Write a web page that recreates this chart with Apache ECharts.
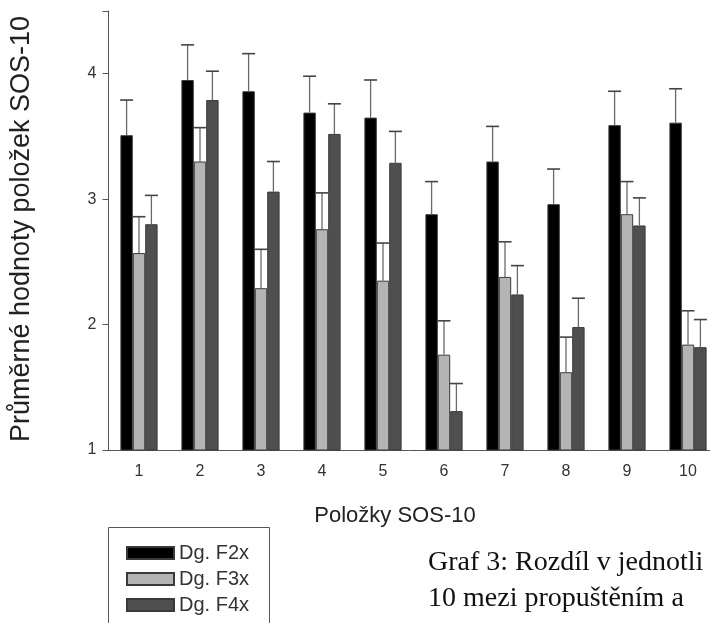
<!DOCTYPE html>
<html>
<head>
<meta charset="utf-8">
<script src="https://cdn.jsdelivr.net/npm/echarts@6/dist/echarts.min.js"></script>
<style>
  html, body { margin: 0; padding: 0; background: #fff; }
  #chart { width: 710px; height: 623px; }
</style>
</head>
<body>
<div id="chart"></div>
<script>
// položky SOS-10
const items = ['1', '2', '3', '4', '5', '6', '7', '8', '9', '10'];
const seriesNames = ['Dg. F2x', 'Dg. F3x', 'Dg. F4x'];
// průměry
const meanF2 = [3.51, 3.95, 3.86, 3.69, 3.65, 2.88, 3.30, 2.96, 3.59, 3.61];
const meanF3 = [2.57, 3.30, 2.29, 2.76, 2.35, 1.76, 2.38, 1.62, 2.88, 1.84];
const meanF4 = [2.80, 3.79, 3.06, 3.52, 3.29, 1.31, 2.24, 1.98, 2.79, 1.82];
// chybové úsečky (horní)
const errF2 = [0.28, 0.28, 0.30, 0.29, 0.30, 0.26, 0.28, 0.28, 0.27, 0.27];
const errF3 = [0.29, 0.27, 0.31, 0.29, 0.30, 0.27, 0.28, 0.28, 0.26, 0.27];
const errF4 = [0.23, 0.23, 0.24, 0.24, 0.25, 0.22, 0.23, 0.23, 0.22, 0.22];
const yTicks = [1, 2, 3, 4];

const colors = ['#000000', '#b4b4b4', '#4f4f4f'];
const barW = 12.4;

let chart = echarts.init(document.getElementById('chart'));

function barSeries(i, data) {
  return {
    name: seriesNames[i],
    type: 'bar',
    data: data,
    barWidth: barW,
    barGap: '0%',
    itemStyle: {
      color: colors[i],
      borderColor: '#3a3a3a',
      borderWidth: 1
    },
    z: 2
  };
}

function errSeries(i, means, errs) {
  return {
    type: 'custom',
    name: 'err' + i,
    data: means.map((m, k) => [k, m, m + errs[k]]),
    z: 3,
    silent: true,
    renderItem: function (params, api) {
      let base = api.coord([api.value(0), api.value(1)]);
      let top = api.coord([api.value(0), api.value(2)]);
      let x = base[0] + (i - 1) * barW;
      let half = 6.5;
      return {
        type: 'group',
        children: [
          { type: 'line', shape: { x1: x, y1: base[1], x2: x, y2: top[1] }, style: { stroke: '#6a6a6a', lineWidth: 1.3 } },
          { type: 'line', shape: { x1: x - half, y1: top[1], x2: x + half, y2: top[1] }, style: { stroke: '#444', lineWidth: 1.6 } }
        ]
      };
    }
  };
}

let option = {
  backgroundColor: '#fff',
  animation: false,
  grid: { left: 108.5, width: 610, top: 11, bottom: 173, outerBoundsMode: 'none', containLabel: false },
  legend: {
    data: seriesNames,
    orient: 'vertical',
    left: 121,
    top: 538,
    itemWidth: 47,
    itemHeight: 12,
    itemGap: 6,
    icon: 'rect',
    textStyle: {
      fontFamily: 'Liberation Sans, Arial',
      fontSize: 20,
      lineHeight: 20,
      color: '#333'
    }
  },
  xAxis: {
    type: 'category',
    data: items,
    axisLine: { lineStyle: { color: '#555', width: 1 } },
    axisTick: { alignWithLabel: true, length: 6, lineStyle: { color: '#555' } },
    axisLabel: { fontFamily: 'Liberation Sans, Arial', fontSize: 16, color: '#333', margin: 14 }
  },
  yAxis: {
    type: 'value',
    min: 1,
    max: 4.5,
    interval: 1,
    splitLine: { show: false },
    axisLine: { show: true, lineStyle: { color: '#555', width: 1 } },
    axisTick: { show: true, length: 6, lineStyle: { color: '#555' } },
    axisLabel: {
      fontFamily: 'Liberation Sans, Arial',
      fontSize: 16,
      color: '#333',
      margin: 12,
      formatter: function (v) { return yTicks.indexOf(v) >= 0 ? String(v) : ''; }
    }
  },
  graphic: [
    {
      type: 'text',
      x: 22, y: 229,
      rotation: Math.PI / 2,
      style: {
        text: 'Průměrné hodnoty položek SOS-10',
        font: '27px "Liberation Sans", Arial',
        fill: '#222',
        align: 'center',
        verticalAlign: 'middle'
      }
    },
    {
      type: 'text',
      x: 395, y: 516,
      style: {
        text: 'Položky SOS-10',
        font: '22px "Liberation Sans", Arial',
        fill: '#222',
        align: 'center',
        verticalAlign: 'middle'
      }
    },
    {
      type: 'rect',
      shape: { x: 108.5, y: 527.5, width: 161, height: 120 },
      style: { fill: 'none', stroke: '#555', lineWidth: 1 },
      z: 1
    },
    {
      type: 'text',
      x: 428, y: 577,
      style: {
        text: 'Graf 3: Rozdíl v jednotli',
        font: '28px "Liberation Serif", "Times New Roman", serif',
        fill: '#111',
        verticalAlign: 'bottom'
      }
    },
    {
      type: 'text',
      x: 428, y: 613,
      style: {
        text: '10 mezi propuštěním a',
        font: '28px "Liberation Serif", "Times New Roman", serif',
        fill: '#111',
        verticalAlign: 'bottom'
      }
    }
  ],
  series: [
    barSeries(0, meanF2),
    barSeries(1, meanF3),
    barSeries(2, meanF4),
    errSeries(0, meanF2, errF2),
    errSeries(1, meanF3, errF3),
    errSeries(2, meanF4, errF4)
  ]
};

chart.setOption(option);
</script>
</body>
</html>
